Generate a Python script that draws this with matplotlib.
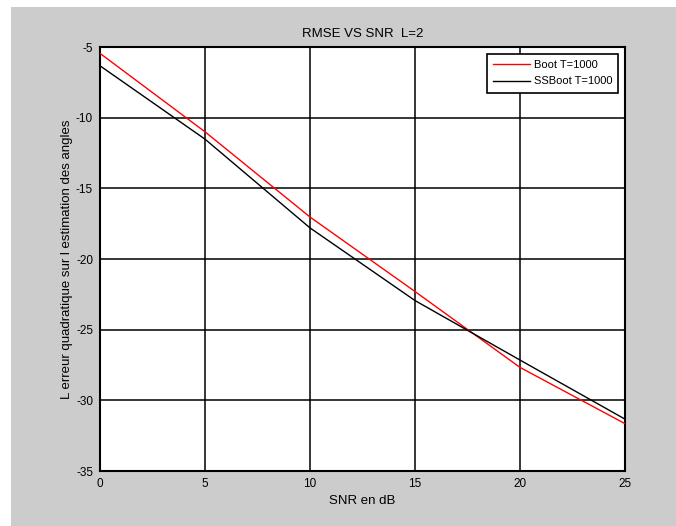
import matplotlib
matplotlib.use("Agg")
import matplotlib.pyplot as plt
from matplotlib.patches import Rectangle

plt.rcParams['font.family'] = ['Liberation Sans', 'DejaVu Sans']
plt.rcParams['axes.unicode_minus'] = False

snr = [0, 5, 10, 15, 20, 25]
boot = [-5.45, -11.0, -17.03, -22.3, -27.67, -31.65]
ssboot = [-6.33, -11.52, -17.8, -22.94, -27.15, -31.33]
xticks = [0, 5, 10, 15, 20, 25]
yticks = [-35, -30, -25, -20, -15, -10, -5]

W, H = 676, 526
fig = plt.figure(figsize=(W / 100, H / 100), dpi=100, facecolor='white')
fig.patches.append(Rectangle((11 / W, 0), 1 - 11 / W, 1 - 7 / H, transform=fig.transFigure,
                             facecolor='#cccccc', edgecolor='none', zorder=-10))

ax = fig.add_axes([100 / W, 1 - 471 / H, 525 / W, 424 / H])
ax.set_facecolor('white')
ax.plot(snr, boot, color='#ff0000', lw=1.0, label='Boot T=1000', zorder=3)
ax.plot(snr, ssboot, color='black', lw=1.0, label='SSBoot T=1000', zorder=3)
ax.set_xlim(0, 25)
ax.set_ylim(-35, -5)
ax.set_xticks(xticks)
ax.set_yticks(yticks)
ax.grid(True, color='black', linestyle='-', linewidth=1.1)
for s in ax.spines.values():
    s.set_linewidth(1.5)
    s.set_color('black')
ax.tick_params(direction='in', length=0, labelsize=8.5, colors='black')
ax.tick_params(axis='x', pad=5)
ax.tick_params(axis='y', pad=5)
ax.set_title('RMSE VS SNR  L=2', fontsize=9.5, pad=7)
ax.set_xlabel('SNR en dB', fontsize=9.5, labelpad=4)
ax.set_ylabel('L erreur quadratique sur l estimation des angles', fontsize=9.5, labelpad=2)
leg = ax.legend(loc='upper right', fontsize=8, frameon=True, fancybox=False,
                edgecolor='black', framealpha=1, handlelength=3.4, handletextpad=0.3,
                borderaxespad=0.6, labelspacing=0.6, borderpad=0.55)
leg.get_frame().set_linewidth(1.2)

fig.savefig('out.png', dpi=100, facecolor=fig.get_facecolor())
